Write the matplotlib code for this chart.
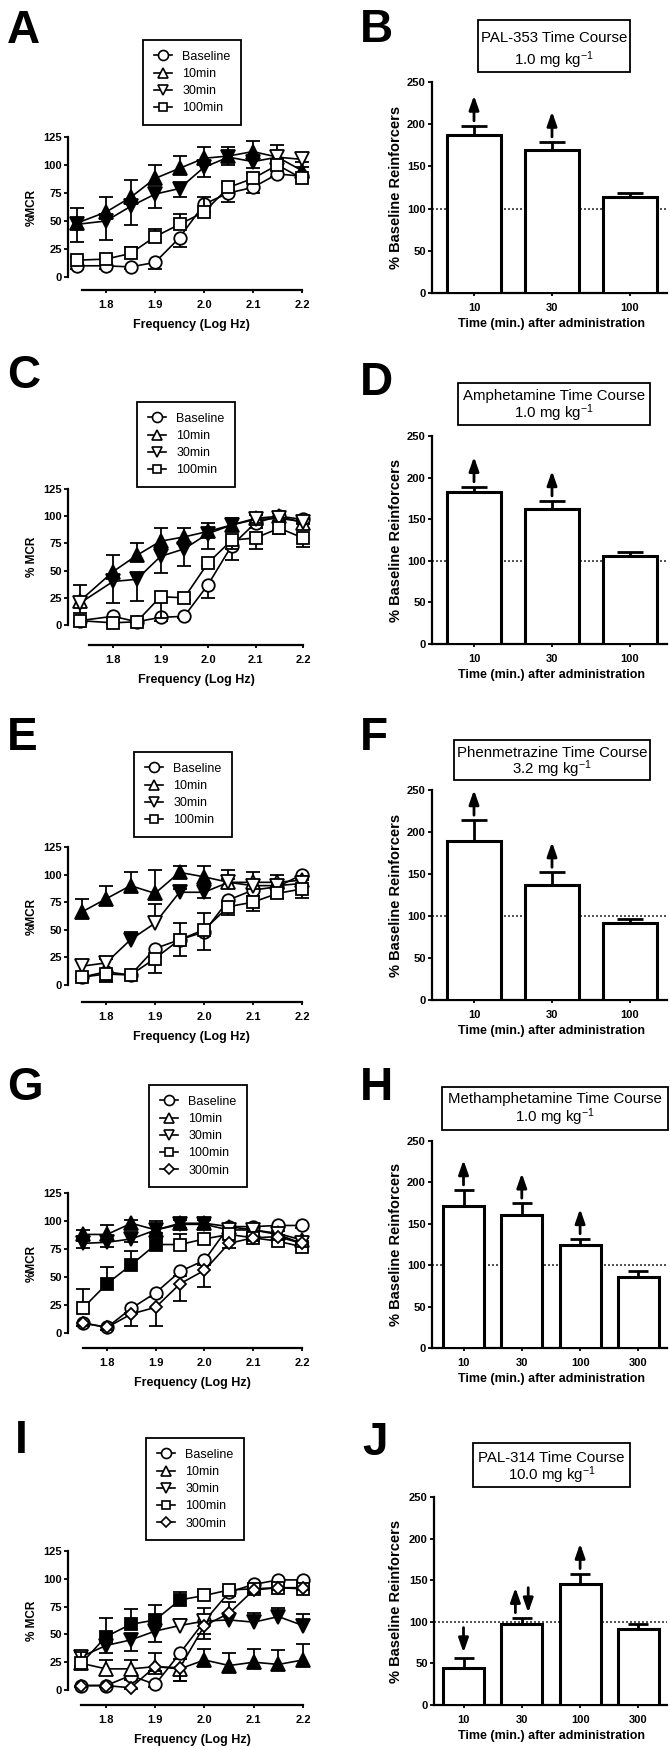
import numpy as np
import matplotlib
matplotlib.use('Agg')
import matplotlib.pyplot as plt
from matplotlib.lines import Line2D
from matplotlib.patches import Rectangle

plt.rcParams['font.family'] = ['Liberation Sans', 'DejaVu Sans']
plt.rcParams['mathtext.fontset'] = 'custom'
plt.rcParams['mathtext.rm'] = 'Liberation Sans'
plt.rcParams['mathtext.it'] = 'Liberation Sans:italic'
plt.rcParams['mathtext.bf'] = 'Liberation Sans:bold'

# ====================== DATA ======================
freq_A = [1.74, 1.80, 1.85, 1.90, 1.95, 2.00, 2.05, 2.10, 2.15, 2.20]
freq_C = [1.73, 1.80, 1.85, 1.90, 1.95, 2.00, 2.05, 2.10, 2.15, 2.20]
freq_E = [1.75, 1.80, 1.85, 1.90, 1.95, 2.00, 2.05, 2.10, 2.15, 2.20]
freq_G = [1.75, 1.80, 1.85, 1.90, 1.95, 2.00, 2.05, 2.10, 2.15, 2.20]
freq_I = [1.75, 1.80, 1.85, 1.90, 1.95, 2.00, 2.05, 2.10, 2.15, 2.20]
freq_ticks = [1.8, 1.9, 2.0, 2.1, 2.2]
mcr_ticks = [0, 25, 50, 75, 100, 125]
bar_ticks = [0, 50, 100, 150, 200, 250]

labels4 = ['Baseline', '10min', '30min', '100min']
labels5 = ['Baseline', '10min', '30min', '100min', '300min']

# signed error: positive = bar drawn above the mean, negative = below
# fill: 1 = filled (significant) symbol, 0 = open symbol
# ---- Panel A (PAL-353) ----
A_base = [10, 10, 9, 13, 35, 65, 75, 80, 92, 90]
A_base_err = [-3, -3, -2, -6, -8, -7, -8, -5, -3, -2]
A_base_fill = [0, 0, 0, 0, 0, 0, 0, 0, 0, 0]
A_10 = [48, 58, 71, 88, 97, 106, 108, 112, 107, 95]
A_10_err = [14, 13, 16, 12, 11, 10, 8, 9, 11, 3]
A_10_fill = [1, 1, 1, 1, 1, 1, 1, 1, 1, 1]
A_30 = [47, 50, 63, 74, 79, 98, 107, 103, 107, 105]
A_30_err = [-16, -17, -17, -12, -8, -9, -7, -6, -3, -2]
A_30_fill = [1, 1, 1, 1, 1, 1, 1, 1, 0, 0]
A_100 = [15, 16, 21, 36, 47, 58, 80, 88, 100, 88]
A_100_err = [3, 3, 6, 7, 9, 13, 4, 5, 5, 3]
A_100_fill = [0, 0, 0, 0, 0, 0, 0, 0, 0, 0]

# ---- Panel C (amphetamine) ----
C_base = [4, 8, 3, 7, 8, 37, 73, 94, 100, 97]
C_base_err = [-2, -2, -1, -3, -2, -12, -13, -5, -2, -3]
C_base_fill = [0, 0, 0, 0, 0, 0, 0, 0, 0, 0]
C_10 = [22, 49, 64, 77, 81, 86, 92, 98, 100, 94]
C_10_err = [15, 15, 11, 12, 8, 8, 6, 3, 3, 3]
C_10_fill = [0, 1, 1, 1, 1, 1, 1, 0, 0, 0]
C_30 = [20, 40, 42, 63, 70, 84, 92, 97, 98, 95]
C_30_err = [-9, -20, -20, -15, -16, -14, -6, -3, -2, -2]
C_30_fill = [0, 1, 1, 1, 1, 1, 1, 0, 0, 0]
C_100 = [4, 2, 3, 26, 25, 57, 78, 80, 89, 80]
C_100_err = [-2, -1, -1, -20, -2, -3, -8, -10, -5, -8]
C_100_fill = [0, 0, 0, 0, 0, 0, 0, 0, 0, 0]

# ---- Panel E (phenmetrazine) ----
E_base = [7, 12, 9, 33, 41, 48, 77, 86, 89, 100]
E_base_err = [-3, -8, -3, -8, 15, 17, -5, -5, -3, -2]
E_base_fill = [0, 0, 0, 0, 0, 0, 0, 0, 0, 0]
E_10 = [66, 78, 90, 83, 102, 98, 93, 93, 93, 95]
E_10_err = [12, 12, 12, 21, 6, 10, 11, 9, 7, 4]
E_10_fill = [1, 1, 1, 1, 1, 1, 0, 0, 0, 0]
E_30 = [17, 20, 41, 56, 84, 84, 93, 90, 90, 92]
E_30_err = [6, 4, 7, 17, 3, -5, 3, 3, 3, 3]
E_30_fill = [0, 0, 1, 0, 1, 1, 0, 0, 0, 0]
E_100 = [7, 10, 9, 24, 41, 50, 71, 75, 83, 87]
E_100_err = [-3, -7, -3, -13, -15, -18, -8, -8, -4, -8]
E_100_fill = [0, 0, 0, 0, 0, 0, 0, 0, 0, 0]

# ---- Panel G (methamphetamine) ----
G_base = [9, 5, 22, 36, 55, 65, 95, 95, 96, 96]
G_base_err = [-3, -2, -4, -4, -4, -4, -2, -2, -2, -2]
G_base_fill = [0, 0, 0, 0, 0, 0, 0, 0, 0, 0]
G_10 = [88, 88, 98, 92, 98, 98, 95, 92, 89, 83]
G_10_err = [4, 8, 3, 8, 3, 3, 2, 2, 2, 2]
G_10_fill = [1, 1, 1, 1, 1, 1, 0, 0, 0, 0]
G_30 = [80, 81, 84, 92, 97, 97, 92, 92, 88, 80]
G_30_err = [-4, -4, -3, -3, -3, -3, -2, -2, -2, -2]
G_30_fill = [1, 1, 1, 1, 1, 1, 0, 0, 0, 0]
G_100 = [22, 44, 61, 79, 79, 84, 88, 85, 82, 77]
G_100_err = [17, 15, 12, 6, 9, 4, 3, 3, 3, 3]
G_100_fill = [0, 1, 1, 1, 0, 0, 0, 0, 0, 0]
G_300 = [9, 5, 17, 23, 44, 56, 80, 85, 86, 80]
G_300_err = [-3, -2, -11, -17, -15, -15, -4, -3, -3, -3]
G_300_fill = [0, 0, 0, 0, 0, 0, 0, 0, 0, 0]

# ---- Panel I (PAL-314) ----
I_base = [4, 4, 13, 5, 33, 62, 88, 95, 99, 99]
I_base_err = [-1, -1, -4, -2, -5, -12, -3, -3, -2, -2]
I_base_fill = [0, 0, 0, 0, 0, 0, 0, 0, 0, 0]
I_10 = [24, 19, 19, 21, 19, 27, 22, 25, 23, 27]
I_10_err = [10, 8, 8, 12, -11, 10, 11, 12, 13, 14]
I_10_fill = [0, 0, 0, 0, 0, 1, 1, 1, 1, 1]
I_30 = [30, 40, 45, 53, 58, 62, 63, 61, 66, 58]
I_30_err = [-8, -7, -10, -10, 6, 12, 6, 8, 8, 10]
I_30_fill = [0, 1, 1, 1, 0, 0, 1, 1, 1, 1]
I_100 = [24, 48, 59, 63, 81, 85, 90, 91, 92, 91]
I_100_err = [10, 17, 14, 13, 7, 3, 3, 3, 3, 3]
I_100_fill = [0, 1, 1, 1, 1, 0, 0, 0, 0, 0]
I_300 = [4, 4, 2, 21, 20, 58, 69, 90, 92, 92]
I_300_err = [-1, -1, -1, -4, -12, -12, 10, -3, -2, -2]
I_300_fill = [0, 0, 0, 0, 0, 0, 0, 0, 0, 0]

# ---- Bar panels: % baseline reinforcers ----
times3 = ['10', '30', '100']
times4 = ['10', '30', '100', '300']
B_vals = [187, 170, 114]
B_err = [11, 9, 5]
B_arrows = ['up', 'up', '']
D_vals = [183, 162, 106]
D_err = [6, 10, 4]
D_arrows = ['up', 'up', '']
F_vals = [189, 137, 92]
F_err = [25, 15, 5]
F_arrows = ['up', 'up', '']
H_vals = [171, 161, 125, 86]
H_err = [20, 14, 7, 7]
H_arrows = ['up', 'up', 'up', '']
J_vals = [44, 97, 146, 91]
J_err = [13, 8, 12, 6]
J_arrows = ['down', 'both', 'up', '']

B_title = ['PAL-353 Time Course', '1.0 mg kg$^{-1}$']
D_title = ['Amphetamine Time Course', '1.0 mg kg$^{-1}$']
F_title = ['Phenmetrazine Time Course', '3.2 mg kg$^{-1}$']
H_title = ['Methamphetamine Time Course', '1.0 mg kg$^{-1}$']
J_title = ['PAL-314 Time Course', '10.0 mg kg$^{-1}$']

# ====================== LAYOUT (pixels) ======================
W, H = 670, 1750
fig = plt.figure(figsize=(W / 100, H / 100), dpi=100)


def fx(px):
    return px / W


def fy(py):
    return 1 - py / H


def px_axes(left, right, top, bottom):
    return fig.add_axes([fx(left), fy(bottom), (right - left) / W, (bottom - top) / H])


LINE_LAYOUT = {
    'A': dict(left=68, p18=106, p22=302, p125=137, p0=277, xb=290, leg=(143, 40), letter=(7, 43)),
    'C': dict(left=68, p18=113, p22=303, p125=489, p0=625, xb=645, leg=(137, 402), letter=(7, 388)),
    'E': dict(left=68, p18=106, p22=302, p125=847, p0=985, xb=1002, leg=(134, 752), letter=(7, 750)),
    'G': dict(left=68, p18=107, p22=302, p125=1193, p0=1333, xb=1348, leg=(149, 1085), letter=(7, 1100)),
    'I': dict(left=68, p18=106, p22=303, p125=1551, p0=1690, xb=1705, leg=(146, 1438), letter=(15, 1453)),
}
BAR_LAYOUT = {
    'B': dict(left=432, c0=474, step=78, bw=54, p0=293, p250=82, box=(478, 20, 630, 72), lines=(42, 65), letter=(360, 42)),
    'D': dict(left=432, c0=474, step=78, bw=54, p0=644, p250=436, box=(458, 383, 650, 425), lines=(400, 418), letter=(360, 395)),
    'F': dict(left=432, c0=474, step=78, bw=54, p0=1000, p250=790, box=(454, 740, 650, 780), lines=(757, 774), letter=(360, 750)),
    'H': dict(left=432, c0=463.5, step=58.3, bw=41, p0=1348, p250=1141, box=(442, 1087, 668, 1130), lines=(1103, 1122), letter=(360, 1100)),
    'J': dict(left=434, c0=463.5, step=58.3, bw=41, p0=1705, p250=1497, box=(473, 1443, 630, 1487), lines=(1462, 1480), letter=(362, 1455)),
}
RIGHT_EDGE = 667

MARKERS = {'Baseline': ('o', 9.0), '10min': ('^', 9.5), '30min': ('v', 9.5),
           '100min': ('s', 8.0), '300min': ('D', 6.5)}
SPINE_LW = 1.6
TICK_FS = 8


def panel_letter(letter, pos):
    fig.text(fx(pos[0]), fy(pos[1]), letter, fontsize=33, fontweight='bold',
             ha='left', va='baseline')


def line_panel(letter, x, labels, series, ylabel):
    L = LINE_LAYOUT[letter]
    ax = px_axes(L['left'], L['p22'], L['p125'], L['xb'])
    ax.patch.set_visible(False)
    xl = 1.8 + (L['left'] - L['p18']) / (L['p22'] - L['p18']) * 0.4
    ax.set_xlim(xl, 2.2)
    yb = -(L['xb'] - L['p0']) / (L['p0'] - L['p125']) * 125
    ax.set_ylim(yb, 125)
    x = np.asarray(x, float)
    for k, (lab, (y, err, fill)) in enumerate(zip(labels, series)):
        y = np.asarray(y, float)
        err = np.asarray(err, float)
        fill = np.asarray(fill, bool)
        zo = 3 + k * 0.2
        m = err != 0
        ax.vlines(x[m], y[m], y[m] + err[m], color='k', lw=1.3, zorder=zo, clip_on=False)
        ax.plot(x[m], y[m] + err[m], ls='none', marker='_', ms=10, mew=1.3, color='k',
                zorder=zo, clip_on=False)
        ax.plot(x, y, '-', color='k', lw=1.2, zorder=zo, clip_on=False)
        mk, ms = MARKERS[lab]
        ax.plot(x[~fill], y[~fill], ls='none', marker=mk, ms=ms, mfc='white', mec='k',
                mew=1.3, zorder=zo + 0.1, clip_on=False)
        ax.plot(x[fill], y[fill], ls='none', marker=mk, ms=ms, mfc='black', mec='k',
                mew=1.3, zorder=zo + 0.1, clip_on=False)
    for s in ('top', 'right'):
        ax.spines[s].set_visible(False)
    ax.spines['left'].set_bounds(0, 125)
    ax.spines['bottom'].set_bounds(1.75, 2.2)
    for s in ('left', 'bottom'):
        ax.spines[s].set_linewidth(SPINE_LW)
    ax.set_yticks(mcr_ticks)
    ax.set_yticklabels([str(t) for t in mcr_ticks], fontweight='bold', fontsize=TICK_FS)
    ax.set_xticks(freq_ticks)
    ax.set_xticklabels(['%.1f' % t for t in freq_ticks], fontweight='bold', fontsize=TICK_FS)
    ax.tick_params(axis='y', length=3, width=1.3, pad=1.5)
    ax.tick_params(axis='x', length=2, width=1.3, pad=5)
    ax.set_ylabel(ylabel, fontsize=8.5, fontweight='bold')
    ax.set_xlabel('Frequency (Log Hz)', fontsize=9, fontweight='bold')
    wpx = L['p22'] - L['left']
    hpx = L['xb'] - L['p125']
    ycen = (L['xb'] - (L['p0'] + L['p125']) / 2) / hpx
    ax.yaxis.set_label_coords((38 - L['left']) / wpx, ycen)
    p175 = L['p18'] - (L['p22'] - L['p18']) / 8
    ax.xaxis.set_label_coords(((p175 + L['p22']) / 2 - L['left']) / wpx, -29 / hpx)
    handles = [Line2D([], [], color='k', lw=1.2, marker=MARKERS[l][0], ms=MARKERS[l][1] * 0.8,
                      mfc='white', mec='k', mew=1.2) for l in labels]
    lx, ly = L['leg']
    leg = ax.legend(handles, labels, loc='upper left', bbox_to_anchor=(fx(lx), fy(ly)),
                    bbox_transform=fig.transFigure, borderaxespad=0, frameon=True,
                    fancybox=False, edgecolor='k', framealpha=1, fontsize=9,
                    handlelength=1.5, handletextpad=0.8, labelspacing=0.42, borderpad=0.85)
    leg.get_frame().set_linewidth(1.3)
    panel_letter(letter, L['letter'])
    return ax


def arrow(ax, x, tail, head):
    ax.annotate('', xy=(x, head), xytext=(x, tail), xycoords='data',
                arrowprops=dict(arrowstyle='-|>,head_length=0.6,head_width=0.21',
                                mutation_scale=14, lw=2, color='k', shrinkA=0, shrinkB=0),
                annotation_clip=False)


def bar_panel(letter, times, vals, errs, arrows, title):
    L = BAR_LAYOUT[letter]
    ax = px_axes(L['left'], RIGHT_EDGE, L['p250'], L['p0'])
    ax.patch.set_visible(False)
    n = len(times)
    xs = np.arange(n)
    ax.set_xlim((L['left'] - L['c0']) / L['step'], (RIGHT_EDGE - L['c0']) / L['step'])
    ax.set_ylim(0, 250)
    vals = np.asarray(vals, float)
    errs = np.asarray(errs, float)
    ax.axhline(100, color='#333333', lw=1.2, ls=(0, (1.2, 1.2)), zorder=1)
    ax.vlines(xs, vals, vals + errs, color='k', lw=2, zorder=2)
    ax.plot(xs, vals + errs, ls='none', marker='_', ms=L['bw'] * 0.5 / 1.389, mew=2,
            color='k', zorder=2)
    ax.bar(xs, vals, width=L['bw'] / L['step'], color='white', edgecolor='k', lw=2.2, zorder=3)
    gap, length, dx = 6, 30, 0.11
    for i, a in enumerate(arrows):
        top = vals[i] + errs[i]
        if a == 'up':
            arrow(ax, xs[i], top + gap, top + gap + length)
        elif a == 'down':
            arrow(ax, xs[i], top + gap + length, top + gap)
        elif a == 'both':
            arrow(ax, xs[i] - dx, top + gap, top + gap + length)
            arrow(ax, xs[i] + dx, top + gap + length, top + gap)
    for s in ('top', 'right'):
        ax.spines[s].set_visible(False)
    ax.spines['left'].set_bounds(0, 250)
    for s in ('left', 'bottom'):
        ax.spines[s].set_linewidth(SPINE_LW)
    ax.set_yticks(bar_ticks)
    ax.set_yticklabels([str(t) for t in bar_ticks], fontweight='bold', fontsize=TICK_FS)
    ax.set_xticks(xs)
    ax.set_xticklabels(times, fontweight='bold', fontsize=TICK_FS)
    ax.tick_params(axis='y', length=3, width=1.3, pad=1.5)
    ax.tick_params(axis='x', length=2, width=1.3, pad=5)
    ax.set_ylabel('% Baseline Reinforcers', fontsize=10.5, fontweight='bold')
    ax.set_xlabel('Time (min.) after administration', fontsize=9, fontweight='bold')
    wpx = RIGHT_EDGE - L['left']
    hpx = L['p0'] - L['p250']
    ax.yaxis.set_label_coords((403 - L['left']) / wpx, 0.5)
    ax.xaxis.set_label_coords((552 - L['left']) / wpx, -25 / hpx)
    x0, y0, x1, y1 = L['box']
    fig.add_artist(Rectangle((fx(x0), fy(y1)), (x1 - x0) / W, (y1 - y0) / H,
                             transform=fig.transFigure, fc='white', ec='k', lw=1.3))
    cx = (x0 + x1) / 2
    for line, by in zip(title, L['lines']):
        fig.text(fx(cx), fy(by), line, fontsize=10.8, ha='center', va='baseline')
    panel_letter(letter, L['letter'])
    return ax


line_panel('A', freq_A, labels4,
           [(A_base, A_base_err, A_base_fill), (A_10, A_10_err, A_10_fill),
            (A_30, A_30_err, A_30_fill), (A_100, A_100_err, A_100_fill)], '%MCR')
line_panel('C', freq_C, labels4,
           [(C_base, C_base_err, C_base_fill), (C_10, C_10_err, C_10_fill),
            (C_30, C_30_err, C_30_fill), (C_100, C_100_err, C_100_fill)], '% MCR')
line_panel('E', freq_E, labels4,
           [(E_base, E_base_err, E_base_fill), (E_10, E_10_err, E_10_fill),
            (E_30, E_30_err, E_30_fill), (E_100, E_100_err, E_100_fill)], '%MCR')
line_panel('G', freq_G, labels5,
           [(G_base, G_base_err, G_base_fill), (G_10, G_10_err, G_10_fill),
            (G_30, G_30_err, G_30_fill), (G_100, G_100_err, G_100_fill),
            (G_300, G_300_err, G_300_fill)], '%MCR')
line_panel('I', freq_I, labels5,
           [(I_base, I_base_err, I_base_fill), (I_10, I_10_err, I_10_fill),
            (I_30, I_30_err, I_30_fill), (I_100, I_100_err, I_100_fill),
            (I_300, I_300_err, I_300_fill)], '% MCR')

bar_panel('B', times3, B_vals, B_err, B_arrows, B_title)
bar_panel('D', times3, D_vals, D_err, D_arrows, D_title)
bar_panel('F', times3, F_vals, F_err, F_arrows, F_title)
bar_panel('H', times4, H_vals, H_err, H_arrows, H_title)
bar_panel('J', times4, J_vals, J_err, J_arrows, J_title)

fig.savefig('out.png', dpi=100)
